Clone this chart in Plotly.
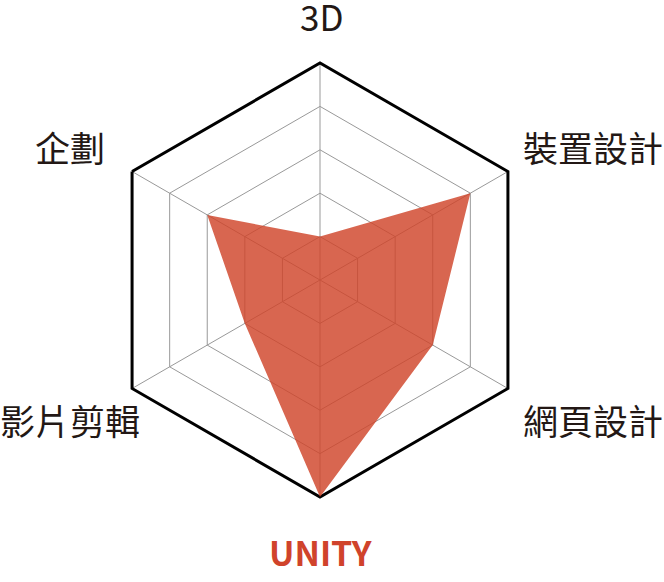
import plotly.graph_objects as go

categories = ["3D", "裝置設計", "網頁設計", "UNITY", "影片剪輯", "企劃"]
values = [1, 4, 3, 5, 2, 3]
highlight = "UNITY"

# label centres in pixels (layout only)
label_px = {
    "3D": (322, 15),
    "裝置設計": (593, 146),
    "網頁設計": (593, 419),
    "UNITY": (320, 551),
    "影片剪輯": (70, 419),
    "企劃": (70, 146),
}

W, H = 664, 582
ML, MR, MT, MB = 103, 127, 63, 85
PW, PH = W - ML - MR, H - MT - MB

fig = go.Figure()
fig.add_trace(go.Scatterpolar(
    r=values + [values[0]],
    theta=categories + [categories[0]],
    mode="lines",
    fill="toself",
    fillcolor="rgba(208,68,42,0.82)",
    line=dict(color="rgba(208,68,42,0)", width=0),
    hoverinfo="skip",
))

annotations = []
for c in categories:
    px, py = label_px[c]
    if c == highlight:
        font = dict(family="Noto Sans CJK TC", size=34,
                    color="#d0432b", weight="bold")
    else:
        font = dict(family="Noto Sans CJK TC", size=35, color="#231815")
    annotations.append(dict(
        text=c, x=(px - ML) / PW, y=(H - MB - py) / PH,
        xref="paper", yref="paper", xanchor="center", yanchor="middle",
        showarrow=False, font=font,
    ))

fig.update_layout(
    width=W, height=H,
    margin=dict(l=ML, r=MR, t=MT, b=MB),
    paper_bgcolor="white",
    plot_bgcolor="white",
    showlegend=False,
    font=dict(family="Noto Sans CJK TC", size=35, color="#231815"),
    annotations=annotations,
    polar=dict(
        bgcolor="white",
        gridshape="linear",
        radialaxis=dict(
            range=[0, 5], tickvals=[1, 2, 3, 4, 5], showticklabels=False,
            ticks="", showline=False, gridcolor="#999999", gridwidth=1,
            layer="below traces",
        ),
        angularaxis=dict(
            rotation=90, direction="clockwise",
            tickvals=categories, showticklabels=False,
            showline=True, linecolor="black", linewidth=3,
            gridcolor="#999999", gridwidth=1, ticks="",
            layer="below traces",
        ),
    ),
)

fig.write_html("out.html")
